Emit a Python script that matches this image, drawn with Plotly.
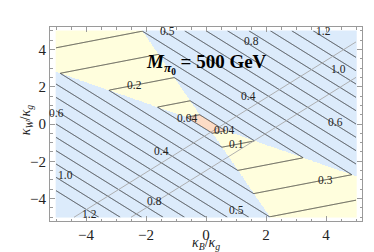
import numpy as np
import plotly.graph_objects as go

# ---- values ----
# quantity shown in the blue region  : kb*|kB + kW|
# quantity shown in the yellow region: ky*|kW - s*kB|
kb = 0.14
ky = 0.071
s = 0.31
levels_main = [0.1, 0.2, 0.3, 0.4, 0.5, 0.6, 0.7, 0.8, 0.9, 1.0, 1.1, 1.2]
level_low = 0.04

label_text = ["0.5", "0.8", "1.2", "1.0", "0.4", "0.6", "0.2", "0.6", "0.04", "0.04",
              "0.4", "0.1", "1.0", "0.8", "1.2", "0.5", "0.3"]
label_x = [-1.30, 1.50, 3.90, 4.40, 1.43, 4.30, -2.37, -4.97, -0.63, 0.60,
           -1.47, 1.03, -4.67, -1.72, -3.87, 1.03, 3.97]
label_y = [4.97, 4.45, 4.97, 2.95, 1.50, 0.10, 2.09, 0.59, 0.32, -0.32,
           -1.45, -1.07, -2.73, -4.15, -4.83, -4.61, -3.00]

gray_offsets = [-0.6, -2.5]   # gray lines kW = kB + c
x_ticks = [-4, -2, 0, 2, 4]
y_ticks = [-4, -2, 0, 2, 4]

# ---- grid ----
xg = np.linspace(-5, 5, 501)
yg = np.linspace(-5, 5, 501)
X, Y = np.meshgrid(xg, yg)
Lb = kb * np.abs(X + Y)
Ly = ky * np.abs(Y - s * X)
F = np.maximum(Lb, Ly)
region = np.where(F < level_low, 2, np.where(Lb >= Ly, 0, 1))

blue = "#dcebfb"
yellow = "#fffedd"
pink = "#fcdcc6"

fig = go.Figure()
fig.add_trace(go.Heatmap(
    x=xg, y=yg, z=region, zmin=0, zmax=2, showscale=False, hoverinfo="skip",
    colorscale=[[0, blue], [0.333, blue], [0.333, yellow], [0.666, yellow],
                [0.666, pink], [1, pink]]))

for c in gray_offsets:
    gx = np.array([-5, 5], dtype=float)
    gy = gx + c
    if gy[0] < -5:
        gx[0] = -5 - c
        gy[0] = -5
    if gy[1] > 5:
        gx[1] = 5 - c
        gy[1] = 5
    fig.add_trace(go.Scatter(x=gx, y=gy, mode="lines",
                             line=dict(color="#a8a8a8", width=0.9),
                             hoverinfo="skip", showlegend=False))

fig.add_trace(go.Contour(
    x=xg, y=yg, z=F, showscale=False, hoverinfo="skip",
    contours=dict(coloring="none", start=levels_main[0], end=levels_main[-1] + 1e-4,
                  size=levels_main[1] - levels_main[0]),
    line=dict(color="#262626", width=0.85, smoothing=0)))
fig.add_trace(go.Contour(
    x=xg, y=yg, z=F, showscale=False, hoverinfo="skip",
    contours=dict(coloring="none", start=level_low, end=level_low, size=1),
    line=dict(color="#262626", width=0.85, smoothing=0)))

for t, lx, ly in zip(label_text, label_x, label_y):
    fig.add_annotation(x=lx, y=ly, text=t, showarrow=False,
                       font=dict(family="Liberation Serif", size=11.5, color="#222"))

fig.add_annotation(x=0.0, y=3.2, xref="x", yref="y", showarrow=False,
                   text="<b><i>M</i><sub><i>π</i><sub>0</sub></sub> = 500 GeV</b>",
                   font=dict(family="Liberation Serif", size=19, color="black"))

fig.add_annotation(x=0.5, y=-0.168, xref="paper", yref="paper", showarrow=False,
                   text="<i>κ</i><sub><i>B</i></sub>/<i>κ</i><sub><i>g</i></sub>",
                   font=dict(family="Liberation Serif", size=14, color="#222"))
fig.add_annotation(x=-0.11, y=0.52, xref="paper", yref="paper", showarrow=False,
                   textangle=-90,
                   text="<i>κ</i><sub><i>W</i></sub>/<i>κ</i><sub><i>g</i></sub>",
                   font=dict(family="Liberation Serif", size=14, color="#222"))

axis_common = dict(
    range=[-5.2, 5.2], showgrid=False, zeroline=False, showline=True,
    linecolor="#9a9a9a", linewidth=1, mirror="ticks", ticks="inside",
    ticklen=5, tickcolor="#9a9a9a",
    minor=dict(ticks="inside", ticklen=2.5, dtick=0.5, tick0=0, tickcolor="#9a9a9a"),
    tickfont=dict(family="Liberation Serif", size=15, color="#222"),
)
fig.update_xaxes(**axis_common, tickvals=x_ticks)
fig.update_yaxes(**axis_common, tickvals=y_ticks)

fig.update_layout(
    width=374, height=252, margin=dict(l=42, r=20, t=19, b=39),
    plot_bgcolor="white", paper_bgcolor="white", showlegend=False,
)
fig.write_html("out.html")
